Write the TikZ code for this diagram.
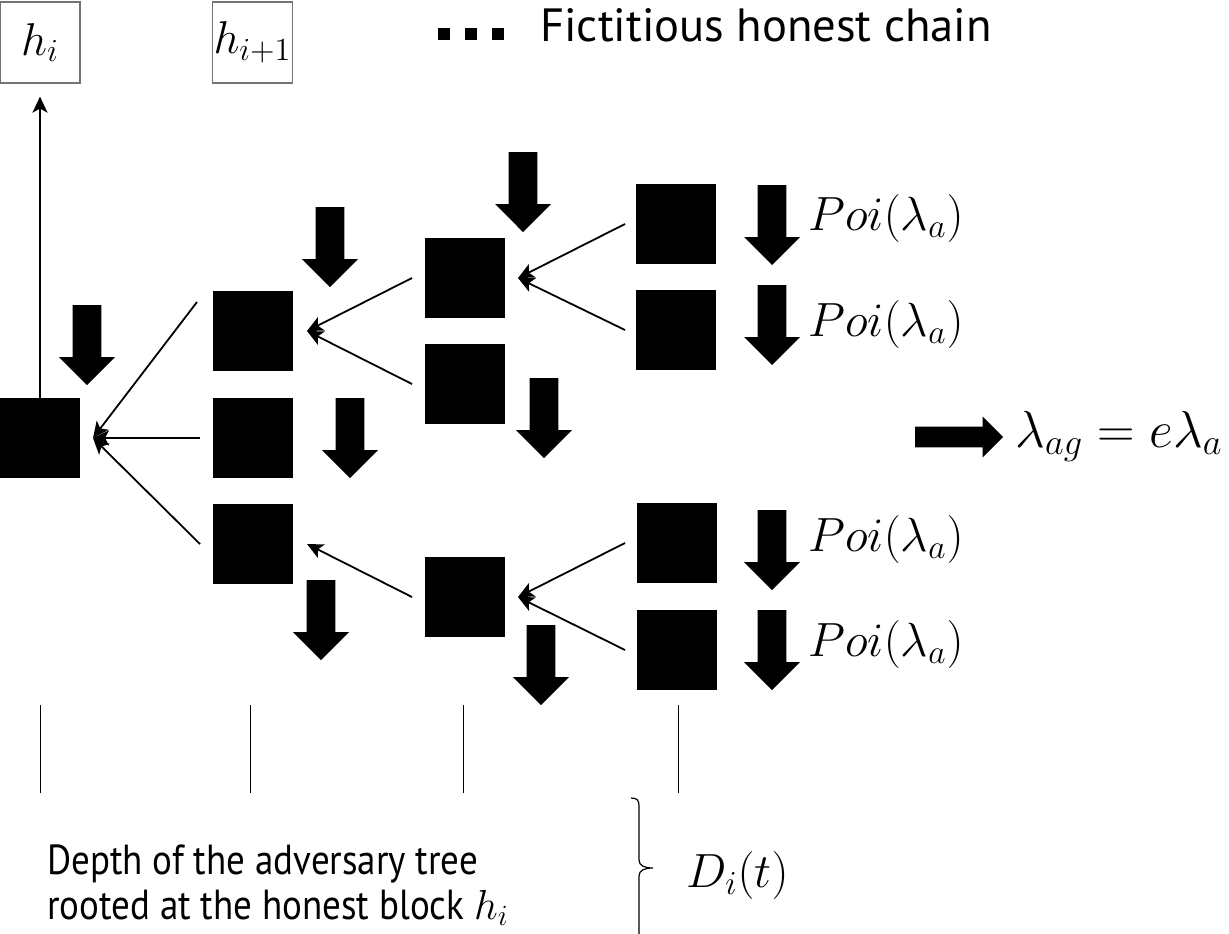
\documentclass[tikz,border=0pt]{standalone}
\usepackage{fix-cm}
\usepackage{fontspec}
\newfontfamily\legendfont{PT Sans}
\newfontfamily\captionfont[FakeStretch=0.88]{PT Sans}
\usetikzlibrary{arrows.meta,shapes.arrows}

\begin{document}
\begin{tikzpicture}[x=0.5pt,y=-0.5pt,
  blk/.style={fill=black,minimum size=40pt,inner sep=0pt,outer sep=0pt},
  hbox/.style={draw=black!55,line width=0.6pt,minimum width=40pt,minimum height=40.5pt,inner sep=0pt,font=\fontsize{23}{27}\selectfont},
  dnarrow/.style={single arrow,fill=black,rotate=-90,anchor=tail,minimum height=40pt,
    inner sep=7pt,single arrow head extend=6.75pt,outer sep=0pt},
  rtarrow/.style={single arrow,fill=black,anchor=tail,minimum height=44pt,
    inner sep=5pt,single arrow head extend=5pt,outer sep=0pt},
  conn/.style={line width=0.9pt,-{Stealth[length=8pt,width=7.5pt,inset=2pt]}},
  mlabel/.style={inner sep=0pt,anchor=base west,font=\fontsize{24}{28}\selectfont},
  leglabel/.style={inner sep=0pt,anchor=base west,font=\legendfont\fontsize{23.3}{27}\selectfont},
  caplabel/.style={inner sep=0pt,anchor=base west,font=\captionfont\fontsize{21}{25}\selectfont},
  tick/.style={line width=0.5pt},
  dot/.style={fill=black,minimum size=6pt,inner sep=0pt}
]
\useasboundingbox (0,0) rectangle (1229,933);

% honest blocks
\node[hbox] (hi)  at (40,42.5)    {$h_i$};
\node[hbox] (hi1) at (252.5,42.5) {$h_{i+1}$};

% legend
\node[dot] (d1) at (444,34) {};
\node[dot] (d2) at (471,34) {};
\node[dot] (d3) at (498,34) {};
\node[leglabel] (leg) at (540,41) {Fictitious honest chain};

% adversary tree blocks
\node[blk] (R)  at (40,438)  {};
\node[blk] (A1) at (253,331) {};
\node[blk] (A2) at (253,438) {};
\node[blk] (A3) at (253,544) {};
\node[blk] (B1) at (465,278) {};
\node[blk] (B2) at (465,384) {};
\node[blk] (B3) at (465,597) {};
\node[blk] (C1) at (676,224) {};
\node[blk] (C2) at (676,330) {};
\node[blk] (C3) at (677,543) {};
\node[blk] (C4) at (677,650) {};

% mining arrows
\node[dnarrow] (mR)  at (87,305)  {};
\node[dnarrow] (mA1) at (330,207) {};
\node[dnarrow] (mA2) at (350,398) {};
\node[dnarrow] (mA3) at (321,580) {};
\node[dnarrow] (mB1) at (523,152) {};
\node[dnarrow] (mB2) at (544,378) {};
\node[dnarrow] (mB3) at (541,625) {};
\node[dnarrow] (mC1) at (772,185) {};
\node[dnarrow] (mC2) at (772,285) {};
\node[dnarrow] (mC3) at (772,510) {};
\node[dnarrow] (mC4) at (772,610) {};

% Poisson labels
\node[mlabel] (p1) at (808,230) {$Poi(\lambda_a)$};
\node[mlabel] (p2) at (808,336) {$Poi(\lambda_a)$};
\node[mlabel] (p3) at (808,551) {$Poi(\lambda_a)$};
\node[mlabel] (p4) at (808,656) {$Poi(\lambda_a)$};

% growth rate
\node[rtarrow] (ra) at (915,437) {};
\node[mlabel,font=\fontsize{26}{30}\selectfont] (rate) at (1015,447) {$\lambda_{ag} = e\lambda_a$};

% parent links
\draw[conn] (R.north) -- ([shift={(0,13)}]hi.south);
\draw[conn] ([shift={(-16,-29)}]A1.west) -- ([shift={(13,0)}]R.east);
\draw[conn] ([shift={(-13,0)}]A2.west) -- ([shift={(13,0)}]R.east);
\draw[conn] ([shift={(-13,0)}]A3.west) -- ([shift={(13,0)}]R.east);
\draw[conn] ([shift={(-13,0)}]B1.west) -- ([shift={(14,0)}]A1.east);
\draw[conn] ([shift={(-13,0)}]B2.west) -- ([shift={(14,0)}]A1.east);
\draw[conn] ([shift={(-13,0)}]B3.west) -- ([shift={(14,0)}]A3.east);
\draw[conn] ([shift={(-11,0)}]C1.west) -- ([shift={(13,0)}]B1.east);
\draw[conn] ([shift={(-11,0)}]C2.west) -- ([shift={(13,0)}]B1.east);
\draw[conn] ([shift={(-12,0)}]C3.west) -- ([shift={(13,0)}]B3.east);
\draw[conn] ([shift={(-12,0)}]C4.west) -- ([shift={(13,0)}]B3.east);

% depth ticks
\draw[tick] (R.center |- 0,705)  -- (R.center |- 0,793);
\draw[tick] ([shift={(-3,0)}]A2.center |- 0,705) -- ([shift={(-3,0)}]A2.center |- 0,793);
\draw[tick] ([shift={(-2,0)}]B1.center |- 0,705) -- ([shift={(-2,0)}]B1.center |- 0,793);
\draw[tick] ([shift={(2,0)}]C1.center |- 0,705) -- ([shift={(2,0)}]C1.center |- 0,793);

% depth caption
\node[caplabel] (cap1) at (47,874) {Depth of the adversary tree};
\node[caplabel] (cap2) at (47,919) {rooted at the honest block $h_i$};
\draw[line width=0.6pt] (631,798) .. controls (637,798) and (639,800) .. (639,806)
  -- (639,860) .. controls (639,866) and (645,868) .. (653,868)
  .. controls (645,868) and (639,870) .. (639,876) -- (639,940);
\node[mlabel,anchor=west] (Dt) at (686,875) {$D_i(t)$};
\end{tikzpicture}
\end{document}
